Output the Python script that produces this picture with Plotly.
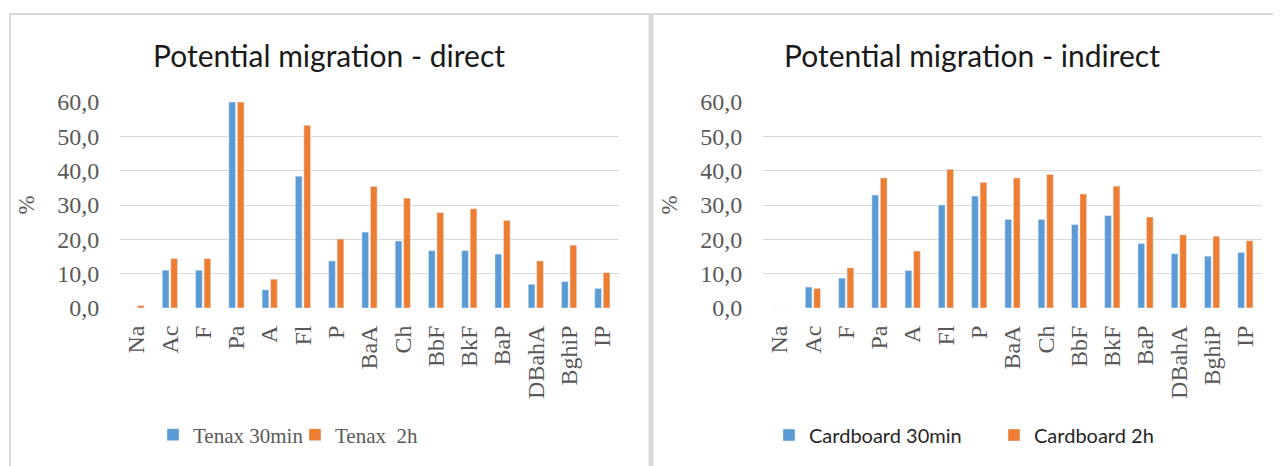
import plotly.graph_objects as go
from plotly.subplots import make_subplots

categories = ["Na", "Ac", "F", "Pa", "A", "Fl", "P", "BaA", "Ch", "BbF", "BkF", "BaP", "DBahA", "BghiP", "IP"]

tenax_30min = [0.0, 11.0, 11.0, 60.0, 5.3, 38.4, 13.7, 22.1, 19.5, 16.7, 16.7, 15.7, 6.9, 7.7, 5.7]
tenax_2h = [0.7, 14.4, 14.4, 60.0, 8.4, 53.2, 20.1, 35.4, 32.0, 27.8, 28.9, 25.5, 13.7, 18.3, 10.3]

cardboard_30min = [0.0, 6.1, 8.7, 32.9, 10.9, 30.0, 32.6, 25.8, 25.8, 24.3, 26.9, 18.8, 15.8, 15.1, 16.2]
cardboard_2h = [0.0, 5.7, 11.7, 37.9, 16.6, 40.4, 36.6, 37.9, 38.9, 33.2, 35.5, 26.5, 21.3, 20.9, 19.6]

y_tick_vals = [0, 10, 20, 30, 40, 50, 60]
y_tick_text = ["0,0", "10,0", "20,0", "30,0", "40,0", "50,0", "60,0"]

titles = ["Potential migration - direct", "Potential migration - indirect"]

BLUE = "#5B9BD5"
ORANGE = "#ED7D31"
GREY = "#595959"
GRID = "#d9d9d9"

# page body has an 8px margin; figure sized to fill the rest of the window
OFF = 8
W, H = 1281 - OFF, 466 - OFF


def xp(X):
    return (X - OFF) / W


def yp(Y):
    return 1 - (Y - OFF) / H


fig = make_subplots(rows=1, cols=2)

fig.add_trace(go.Bar(x=categories, y=tenax_30min, name="Tenax 30min", marker_color=BLUE,
                     legend="legend"), row=1, col=1)
fig.add_trace(go.Bar(x=categories, y=tenax_2h, name="Tenax  2h", marker_color=ORANGE,
                     legend="legend"), row=1, col=1)
fig.add_trace(go.Bar(x=categories, y=cardboard_30min, name="Cardboard 30min", marker_color=BLUE,
                     legend="legend2"), row=1, col=2)
fig.add_trace(go.Bar(x=categories, y=cardboard_2h, name="Cardboard 2h", marker_color=ORANGE,
                     legend="legend2"), row=1, col=2)

xcommon = dict(tickangle=-90, tickfont=dict(family="Liberation Serif", size=24, color=GREY),
               showgrid=False, showline=False, zeroline=False, ticks="outside", ticklen=7,
               tickcolor="rgba(0,0,0,0)", automargin=False)
ycommon = dict(range=[0, 60], tickvals=y_tick_vals, ticktext=y_tick_text,
               tickfont=dict(family="Liberation Serif", size=24, color=GREY),
               showgrid=True, gridcolor=GRID, gridwidth=1, zeroline=False, showline=False,
               ticks="outside", ticklen=15, tickcolor="rgba(0,0,0,0)",
               domain=[yp(308), yp(102)], automargin=False,
               title=dict(text="%", font=dict(family="Liberation Serif", size=23, color=GREY), standoff=16))

fig.update_layout(
    xaxis=dict(domain=[xp(120), xp(619)], **xcommon),
    xaxis2=dict(domain=[xp(763), xp(1262)], **xcommon),
    yaxis=ycommon,
    yaxis2=ycommon,
)

fig.update_layout(
    width=W, height=H,
    margin=dict(l=0, r=0, t=0, b=0, autoexpand=False),
    paper_bgcolor="white", plot_bgcolor="white",
    barmode="group", bargap=0.49, bargroupgap=0.21,
    legend=dict(orientation="h", x=xp(153), y=yp(435), xanchor="left", yanchor="middle",
                font=dict(family="Liberation Serif", size=21, color=GREY),
                itemwidth=30, tracegroupgap=0, bgcolor="rgba(0,0,0,0)",
                entrywidth=97, entrywidthmode="pixels"),
    legend2=dict(orientation="h", x=xp(769), y=yp(435), xanchor="left", yanchor="middle",
                 font=dict(family="Lato", size=20, color="#262626"),
                 itemwidth=30, tracegroupgap=0, bgcolor="rgba(0,0,0,0)",
                 entrywidth=180, entrywidthmode="pixels"),
    shapes=[
        dict(type="line", xref="paper", yref="paper", x0=xp(9), x1=1, y0=yp(14), y1=yp(14),
             line=dict(color=GRID, width=2)),
        dict(type="line", xref="paper", yref="paper", x0=xp(10), x1=xp(10), y0=0, y1=yp(14),
             line=dict(color=GRID, width=2)),
        dict(type="line", xref="paper", yref="paper", x0=xp(651), x1=xp(651), y0=0, y1=yp(14),
             line=dict(color=GRID, width=5)),
    ],
    annotations=[
        dict(text=titles[0], xref="paper", yref="paper", x=xp(329), y=yp(55),
             xanchor="center", yanchor="middle", showarrow=False,
             font=dict(family="Lato", size=30, color="#1a1a1a")),
        dict(text=titles[1], xref="paper", yref="paper", x=xp(972), y=yp(55),
             xanchor="center", yanchor="middle", showarrow=False,
             font=dict(family="Lato", size=30, color="#1a1a1a")),
    ],
)

fig.write_html("out.html")
